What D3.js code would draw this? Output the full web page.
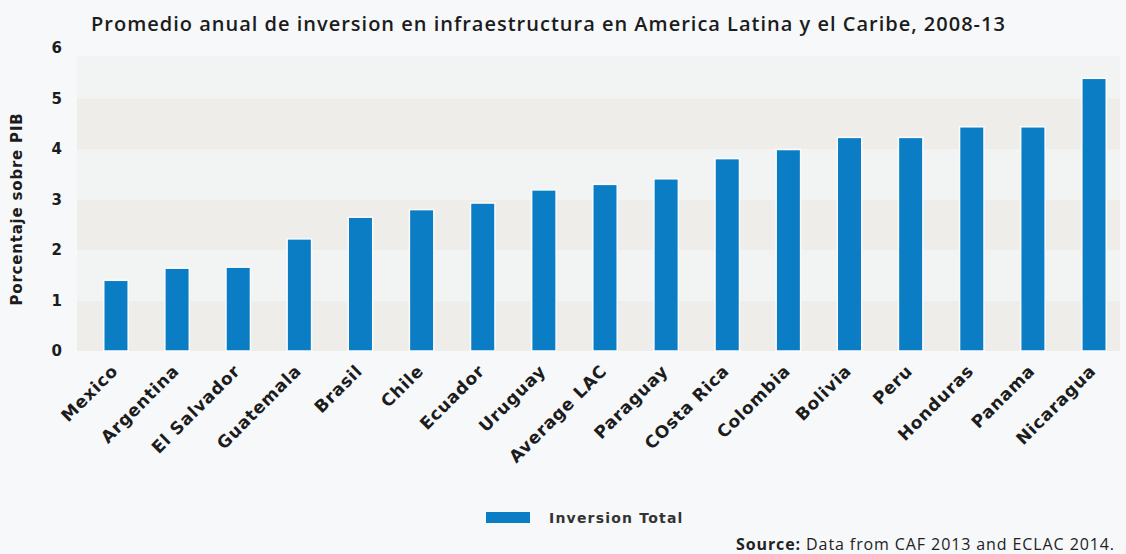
<!DOCTYPE html>
<html>
<head>
<meta charset="utf-8">
<script src="https://cdn.jsdelivr.net/npm/d3@7"></script>
<style>
  html, body { margin: 0; padding: 0; background: #f6f8fa; }
  svg { display: block; }
</style>
</head>
<body>
<svg id="chart" width="1126" height="554"></svg>
<script>
const title = "Promedio anual de inversion en infraestructura en America Latina y el Caribe, 2008-13";
const yAxisTitle = "Porcentaje sobre PIB";
const categories = ["Mexico", "Argentina", "El Salvador", "Guatemala", "Brasil", "Chile", "Ecuador", "Uruguay", "Average LAC", "Paraguay", "COsta Rica", "Colombia", "Bolivia", "Peru", "Honduras", "Panama", "Nicaragua"];
const inversionTotal = [1.40, 1.64, 1.66, 2.22, 2.65, 2.80, 2.93, 3.19, 3.30, 3.41, 3.81, 3.99, 4.23, 4.23, 4.44, 4.44, 5.40];
const seriesName = "Inversion Total";
const yTicks = [0, 1, 2, 3, 4, 5, 6];
const sourceLabel = "Source:";
const sourceText = " Data from CAF 2013 and ECLAC 2014.";

const svg = d3.select("#chart");
const barColor = "#0b7dc4";
const textColor = "#1c1c1c";

const x = d3.scaleBand().domain(categories).range([85.4, 1124.6]).paddingInner(0.6).paddingOuter(0.3);
const y = d3.scaleLinear().domain([0, 6]).range([351, 48]);

// plot background bands
const bands = [[0, 1], [1, 2], [2, 3], [3, 4], [4, 5], [5, 5.85]];
svg.append("g").selectAll("rect").data(bands).join("rect")
  .attr("x", 77).attr("width", 1120 - 77)
  .attr("y", d => y(d[1])).attr("height", d => y(d[0]) - y(d[1]))
  .attr("fill", (d, i) => i % 2 === 0 ? "#eeede9" : "#f2f3f3");

// bars
svg.append("g").selectAll("rect").data(categories).join("rect")
  .attr("x", d => x(d))
  .attr("width", x.bandwidth())
  .attr("y", (d, i) => y(inversionTotal[i]))
  .attr("height", (d, i) => y(0) - y(inversionTotal[i]))
  .attr("fill", barColor)
  .attr("stroke", "#fbfcfd").attr("stroke-width", 1.5);

// y axis
const yAxis = svg.append("g").attr("transform", "translate(62,0)")
  .call(d3.axisLeft(y).tickValues(yTicks).tickSize(0).tickPadding(0).tickFormat(d3.format("d")));
yAxis.select(".domain").remove();
yAxis.selectAll("text")
  .attr("font-family", "DejaVu Sans, sans-serif").attr("font-weight", "bold")
  .attr("font-size", 15).attr("fill", textColor);

// x axis labels
const xAxis = svg.append("g").attr("transform", `translate(0,${y(0)})`)
  .call(d3.axisBottom(x).tickSize(0).tickPadding(0));
xAxis.select(".domain").remove();
xAxis.selectAll("text")
  .attr("font-family", "DejaVu Sans, sans-serif").attr("font-weight", "bold")
  .attr("font-size", 17).attr("letter-spacing", 0.8).attr("fill", textColor)
  .attr("text-anchor", "end")
  .attr("dy", 0).attr("y", 0)
  .attr("transform", "translate(3,21) rotate(-45)");

// y axis title
svg.append("text")
  .attr("transform", "translate(22,209) rotate(-90)")
  .attr("text-anchor", "middle")
  .attr("font-family", "DejaVu Sans, sans-serif").attr("font-weight", "bold")
  .attr("font-size", 15).attr("letter-spacing", 0.8).attr("fill", textColor)
  .text(yAxisTitle);

// title
svg.append("text")
  .attr("x", 91).attr("y", 31)
  .attr("font-family", "Open Sans, sans-serif").attr("font-weight", 600)
  .attr("font-size", 20).attr("letter-spacing", 1).attr("fill", textColor)
  .text(title);

// legend
const legend = svg.append("g");
legend.append("rect").attr("x", 486).attr("y", 512).attr("width", 44).attr("height", 11).attr("fill", barColor);
legend.append("text").attr("x", 549).attr("y", 522.5)
  .attr("font-family", "DejaVu Sans, sans-serif").attr("font-weight", "bold")
  .attr("font-size", 14).attr("letter-spacing", 1.2).attr("fill", "#333")
  .text(seriesName);

// source
const src = svg.append("text").attr("x", 736).attr("y", 550)
  .attr("font-family", "Open Sans, sans-serif")
  .attr("font-size", 16).attr("letter-spacing", 0.9).attr("fill", "#222");
src.append("tspan").attr("font-weight", "bold").text(sourceLabel);
src.append("tspan").text(sourceText);
</script>
</body>
</html>
